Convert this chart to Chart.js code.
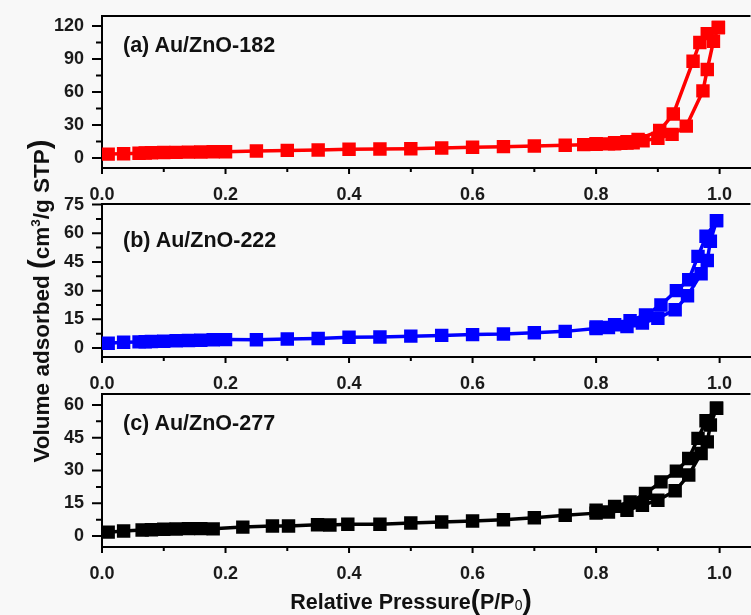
<!DOCTYPE html>
<html>
<head>
<meta charset="utf-8">
<script src="https://cdn.jsdelivr.net/npm/chart.js@4.4.1/dist/chart.umd.min.js"></script>
<style>
  html, body { margin: 0; padding: 0; }
  body { width: 751px; height: 615px; overflow: hidden; position: relative; background: #f8f8f8;
         font-family: "Liberation Sans", Arial, sans-serif; font-weight: bold; color: #111; }
  canvas { position: absolute; left: 0; }
  .lbl { position: absolute; font-size: 21.5px; line-height: 20px; white-space: nowrap; }
  .big { font-size: 1.3em; line-height: 0; }
  #ytitle { position: absolute; left: -158px; top: 286px; width: 400px; height: 30px; line-height: 30px;
            text-align: center; font-size: 22.5px; transform: rotate(-90deg); white-space: nowrap; }
  #xtitle { position: absolute; left: 211px; top: 590px; width: 400px; line-height: 24px;
            text-align: center; font-size: 21.5px; white-space: nowrap; }
  sup { font-size: 0.6em; vertical-align: 0.7em; line-height: 0; }
  sub { font-size: 0.65em; vertical-align: -0.1em; line-height: 0; font-weight: normal; }
</style>
</head>
<body>
<canvas id="chartA" width="760" height="210" style="top:0px"></canvas>
<canvas id="chartB" width="760" height="200" style="top:194px"></canvas>
<canvas id="chartC" width="760" height="231" style="top:384px"></canvas>

<div class="lbl" style="left:123px; top:35px">(a) Au/ZnO-182</div>
<div class="lbl" style="left:123px; top:230px">(b) Au/ZnO-222</div>
<div class="lbl" style="left:123px; top:413px">(c) Au/ZnO-277</div>
<div id="ytitle">Volume adsorbed <span class="big">(</span>cm<sup>3</sup>/g STP<span class="big">)</span></div>
<div id="xtitle">Relative Pressure<span class="big">(</span>P/P<sub>0</sub><span class="big">)</span></div>

<script>
// x tick labels (shared by all three panels)
var xTicks = [0.0, 0.2, 0.4, 0.6, 0.8, 1.0];

// (a) Au/ZnO-182
var adsXA = [0.01, 0.035, 0.06, 0.07, 0.08, 0.10, 0.12, 0.14, 0.16, 0.18, 0.20, 0.25, 0.30, 0.35, 0.40, 0.45, 0.50, 0.55, 0.60, 0.65, 0.70, 0.75, 0.78, 0.80, 0.82, 0.83, 0.84, 0.85, 0.86, 0.876, 0.90, 0.923, 0.946, 0.973, 0.98, 0.99, 0.998];
var adsYA = [3.6, 4.0, 4.4, 4.6, 4.8, 5.0, 5.2, 5.4, 5.6, 5.7, 5.8, 6.4, 7.0, 7.4, 8.0, 8.2, 8.5, 9.2, 9.8, 10.4, 11.0, 11.6, 12.2, 12.6, 12.9, 13.1, 13.4, 13.6, 14.0, 15.7, 17.9, 21.5, 29.0, 61.0, 80.5, 106.0, 118.5];
var desXA = [0.998, 0.98, 0.968, 0.957, 0.925, 0.903, 0.868, 0.85, 0.83, 0.80];
var desYA = [118.5, 113.0, 105.0, 88.0, 40.0, 25.0, 17.0, 14.8, 14.0, 13.0];
var yTicksA = [0, 30, 60, 90, 120];

// (b) Au/ZnO-222
var adsXB = [0.01, 0.035, 0.06, 0.07, 0.08, 0.10, 0.12, 0.14, 0.16, 0.18, 0.20, 0.25, 0.30, 0.35, 0.40, 0.45, 0.50, 0.55, 0.60, 0.65, 0.70, 0.75, 0.80, 0.82, 0.85, 0.875, 0.90, 0.928, 0.948, 0.97, 0.98, 0.985, 0.995];
var adsYB = [2.5, 3.0, 3.2, 3.3, 3.4, 3.5, 3.8, 3.9, 4.1, 4.3, 4.4, 4.3, 4.7, 5.0, 5.6, 5.8, 6.2, 6.6, 7.0, 7.3, 8.0, 8.7, 10.2, 10.7, 11.2, 13.0, 15.6, 20.0, 27.3, 38.8, 45.8, 55.8, 66.6];
var desXB = [0.995, 0.978, 0.965, 0.95, 0.93, 0.905, 0.88, 0.855, 0.83, 0.80];
var desYB = [66.6, 58.4, 47.9, 35.7, 30.0, 22.5, 17.3, 14.3, 12.2, 11.0];
var yTicksB = [0, 15, 30, 45, 60, 75];

// (c) Au/ZnO-277
var adsXC = [0.01, 0.035, 0.065, 0.08, 0.10, 0.12, 0.14, 0.16, 0.18, 0.228, 0.276, 0.302, 0.349, 0.369, 0.398, 0.45, 0.50, 0.55, 0.60, 0.65, 0.70, 0.75, 0.80, 0.82, 0.85, 0.875, 0.90, 0.928, 0.95, 0.97, 0.98, 0.985, 0.995];
var adsYC = [1.8, 2.3, 2.8, 2.9, 3.1, 3.2, 3.4, 3.4, 3.3, 4.1, 4.6, 4.6, 5.2, 5.1, 5.4, 5.4, 6.0, 6.4, 6.9, 7.5, 8.4, 9.5, 10.5, 11.0, 11.8, 14.1, 16.4, 20.7, 27.9, 37.8, 43.1, 50.8, 58.5];
var desXC = [0.995, 0.978, 0.965, 0.95, 0.93, 0.905, 0.88, 0.855, 0.83, 0.80];
var desYC = [58.5, 52.8, 44.7, 35.5, 29.7, 24.8, 19.5, 15.6, 13.6, 11.8];
var yTicksC = [0, 15, 30, 45, 60];

function toPoints(xs, ys) {
    return xs.map(function(x, i) { return {x: x, y: ys[i]}; });
}

// midpoints between major ticks -> minor tick marks
function minorOf(ticks) {
    var out = [];
    for (var i = 0; i < ticks.length - 1; i++) out.push((ticks[i] + ticks[i + 1]) / 2);
    out.push(ticks[ticks.length - 1] + (ticks[1] - ticks[0]) / 2);
    return out;
}

// frame top line + outward major/minor tick marks
var framePlugin = {
    id: 'frame',
    afterDraw: function(chart, args, opts) {
        var ctx = chart.ctx, a = chart.chartArea;
        var xs = chart.scales.x, ys = chart.scales.y;
        ctx.save();
        ctx.strokeStyle = '#000';
        ctx.lineWidth = 2;
        ctx.beginPath();
        ctx.moveTo(a.left - 1, a.top);
        ctx.lineTo(a.right, a.top);
        xTicks.forEach(function(v) {
            var p = xs.getPixelForValue(v);
            ctx.moveTo(p, a.bottom); ctx.lineTo(p, a.bottom + 6);
        });
        minorOf(xTicks).forEach(function(v) {
            var p = xs.getPixelForValue(v);
            ctx.moveTo(p, a.bottom); ctx.lineTo(p, a.bottom + 4);
        });
        opts.yTicks.forEach(function(v) {
            var p = ys.getPixelForValue(v);
            ctx.moveTo(a.left, p); ctx.lineTo(a.left - 10, p);
        });
        minorOf(opts.yTicks).forEach(function(v) {
            if (v > ys.max) return;
            var p = ys.getPixelForValue(v);
            ctx.moveTo(a.left, p); ctx.lineTo(a.left - 6, p);
        });
        ctx.stroke();
        ctx.restore();
    }
};

function makePanel(id, color, ads, des, yMin, yMax, yTicks, padTop, xHeight) {
    var ds = function(pts) {
        return {
            data: pts,
            showLine: true,
            borderColor: color,
            backgroundColor: color,
            borderWidth: 3.5,
            pointStyle: 'rect',
            pointRadius: 9.5,
            pointBorderWidth: 0,
            pointBackgroundColor: color
        };
    };
    var tickFont = {family: '"Liberation Sans", Arial, sans-serif', size: 18, weight: 'bold'};
    return new Chart(document.getElementById(id), {
        type: 'scatter',
        data: { datasets: [ds(ads), ds(des)] },
        options: {
            responsive: false,
            animation: false,
            events: [],
            layout: { padding: {top: padTop, left: 0, right: 0, bottom: 0} },
            plugins: { legend: {display: false}, tooltip: {enabled: false}, frame: {yTicks: yTicks} },
            scales: {
                x: {
                    type: 'linear', min: 0, max: 1.05,
                    afterBuildTicks: function(s) { s.ticks = xTicks.map(function(v) { return {value: v}; }); },
                    afterFit: function(s) { s.height = xHeight; s.paddingLeft = 0; s.paddingRight = 0; },
                    ticks: { font: tickFont, color: '#1a1a1a', padding: 10, maxRotation: 0,
                             callback: function(v) { return v.toFixed(1); } },
                    grid: { drawOnChartArea: false, tickLength: 6, tickColor: 'rgba(0,0,0,0)' },
                    border: { color: '#000', width: 2 }
                },
                y: {
                    min: yMin, max: yMax,
                    afterBuildTicks: function(s) { s.ticks = yTicks.map(function(v) { return {value: v}; }); },
                    afterFit: function(s) { s.width = 102; s.paddingTop = 0; s.paddingBottom = 0; },
                    ticks: { font: tickFont, color: '#1a1a1a', padding: 8 },
                    grid: { drawOnChartArea: false, tickLength: 10, tickColor: 'rgba(0,0,0,0)' },
                    border: { color: '#000', width: 2 }
                }
            }
        },
        plugins: [framePlugin]
    });
}

makePanel('chartA', '#ff0000', toPoints(adsXA, adsYA), toPoints(desXA, desYA), -9, 129, yTicksA, 16, 42);
makePanel('chartB', '#0000ff', toPoints(adsXB, adsYB), toPoints(desXB, desYB), -4.7, 75.3, yTicksB, 10, 37);
makePanel('chartC', '#000000', toPoints(adsXC, adsYC), toPoints(desXC, desYC), -5, 65, yTicksC, 10, 68);
</script>
</body>
</html>
